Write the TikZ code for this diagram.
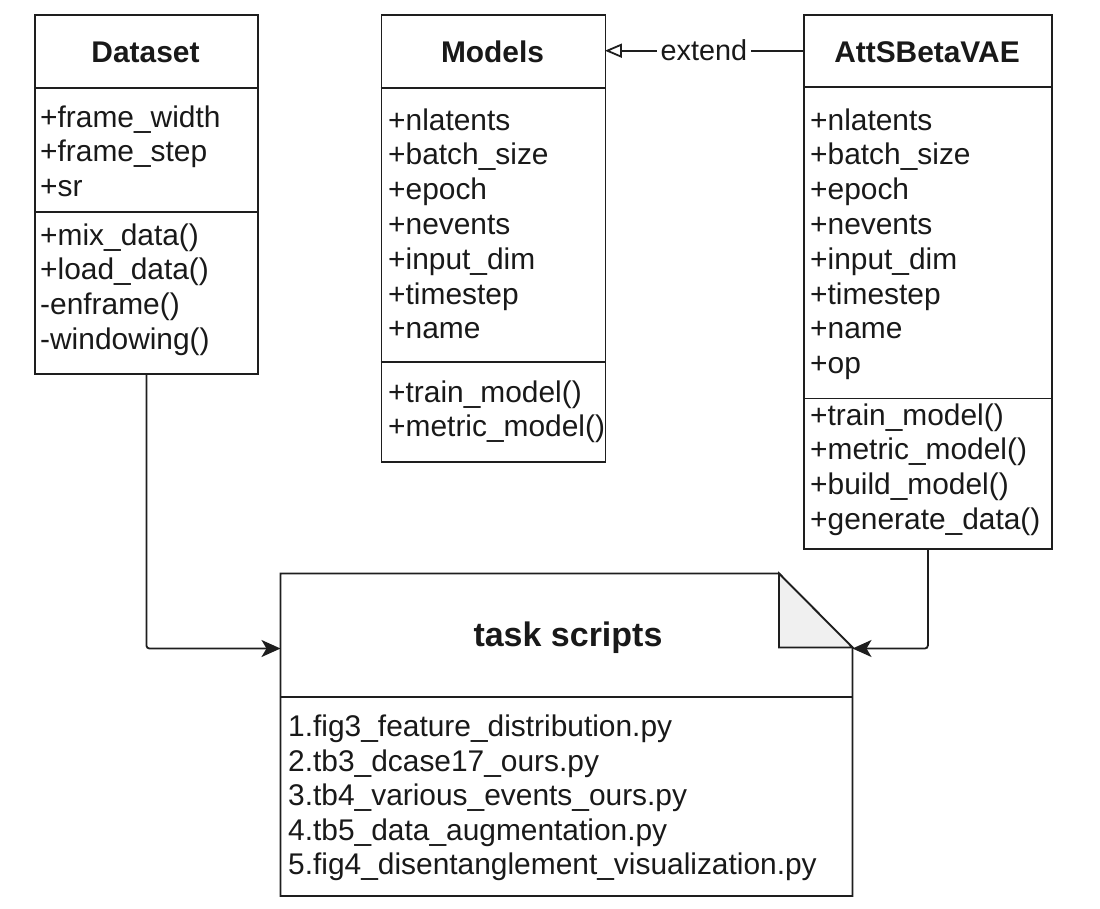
\documentclass[tikz,border=0pt]{standalone}
\usepackage{fontspec}
\setmainfont{Liberation Sans}
\usetikzlibrary{arrows.meta}
\definecolor{ln}{RGB}{30,30,30}
\definecolor{tx}{RGB}{25,25,25}
\definecolor{foldc}{RGB}{240,240,240}
\begin{document}
\begin{tikzpicture}[x=1pt,y=-1pt,
  box/.style={draw=ln, line width=1.8pt},
  part/.style={anchor=north west, inner sep=0pt},
  attr/.style={anchor=base west, inner sep=0pt, text=tx, font=\fontsize{29.9}{34}\selectfont},
  ttl/.style={anchor=base, inner sep=0pt, text=tx, font=\fontsize{29.9}{34}\selectfont\bfseries},
  conn/.style={draw=ln, line width=1.8pt, rounded corners=3pt, -{Stealth[length=19pt,width=17pt,inset=5pt]}},
  ext/.style={draw=ln, line width=1.8pt, -{Triangle[open,length=17pt,width=14pt]}},
  lbl/.style={fill=white, inner xsep=4pt, inner ysep=1pt, text=tx, font=\fontsize{28.8}{34}\selectfont}]
\useasboundingbox (0,0) rectangle (1100,908);

% ---------- Dataset ----------
\node[box, part, minimum width=223pt, minimum height=359pt] (dataset) at (34,14) {};
\node[part, minimum width=223pt, minimum height=73pt] (dataset-h) at (34,14) {};
\draw[box] (34,88) -- (257,88);
\draw[box] (34,212) -- (257,212);
\node[ttl] (dataset-t) at (145.5,62) {Dataset};
\foreach \t [count=\i from 0] in {+frame\_width,+frame\_step,+sr}
  \node[attr] (dataset-a\i) at (40,127+34.7*\i) {\t};
\foreach \t [count=\i from 0] in {+mix\_data(),+load\_data(),-enframe(),-windowing()}
  \node[attr] (dataset-m\i) at (40,245+34.7*\i) {\t};

% ---------- Models ----------
\node[box, part, minimum width=224pt, minimum height=447pt] (models) at (380.5,14) {};
\node[part, minimum width=224pt, minimum height=73pt] (models-h) at (380.5,14) {};
\draw[box] (380.5,88) -- (604.5,88);
\draw[box] (380.5,362) -- (604.5,362);
\node[ttl] (models-t) at (492.5,62) {Models};
\foreach \t [count=\i from 0] in {+nlatents,+batch\_size,+epoch,+nevents,+input\_dim,+timestep,+name}
  \node[attr] (models-a\i) at (388,130+34.8*\i) {\t};
\foreach \t [count=\i from 0] in {+train\_model(),+metric\_model()}
  \node[attr] (models-m\i) at (388,402+34.8*\i) {\t};

% ---------- AttSBetaVAE ----------
\node[box, part, minimum width=248pt, minimum height=534pt] (vae) at (803,14) {};
\node[part, minimum width=248pt, minimum height=73pt] (vae-h) at (803,14) {};
\draw[box] (803,87) -- (1051,87);
\draw[box] (803,398.5) -- (1051,398.5);
\node[ttl] (vae-t) at (927,62) {AttSBetaVAE};
\foreach \t [count=\i from 0] in {+nlatents,+batch\_size,+epoch,+nevents,+input\_dim,+timestep,+name,+op}
  \node[attr] (vae-a\i) at (810,130+34.8*\i) {\t};
\foreach \t [count=\i from 0] in {+train\_model(),+metric\_model(),+build\_model(),+generate\_data()}
  \node[attr] (vae-m\i) at (810,425+34.8*\i) {\t};

% ---------- task scripts ----------
\node[part, minimum width=572pt, minimum height=323pt] (task) at (280.5,573.5) {};
\draw[box, line join=miter] (280.5,573.5) -- (779,573.5) -- (852.5,647.5) -- (852.5,896) -- (280.5,896) -- cycle;
\draw[box, fill=foldc, line join=miter] (779,573.5) -- (779,647.5) -- (852.5,647.5) -- cycle;
\draw[box] (280.5,697) -- (852.5,697);
\node[anchor=base, inner sep=0pt, text=tx, font=\fontsize{34}{40}\selectfont\bfseries] (task-t) at (568,646) {task scripts};
\foreach \t [count=\i from 0] in {1.fig3\_feature\_distribution.py,2.tb3\_dcase17\_ours.py,3.tb4\_various\_events\_ours.py,4.tb5\_data\_augmentation.py,5.fig4\_disentanglement\_visualization.py}
  \node[attr] (task-l\i) at (288,736.5+34.6*\i) {\t};

% ---------- connectors ----------
\coordinate (task-in-l) at (280.5,648.5);
\coordinate (task-in-r) at (852.5,648.5);
\draw[conn] (dataset.south) |- (task-in-l);
\draw[conn] (vae.south) |- (task-in-r);
\draw[ext] (vae-h.west) -- node[lbl] (ext-lbl) {extend} (models-h.east);
\end{tikzpicture}
\end{document}
